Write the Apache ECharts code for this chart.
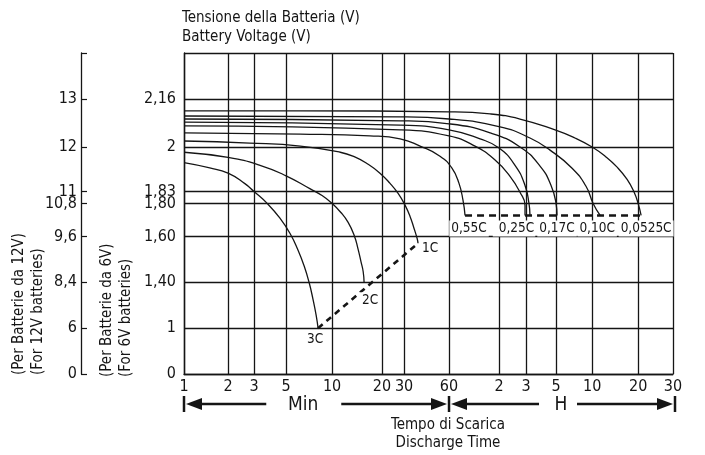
<!DOCTYPE html>
<html>
<head>
<meta charset="utf-8">
<title>Battery discharge curves</title>
<script src="https://cdn.jsdelivr.net/npm/echarts@6/dist/echarts.min.js"></script>
<style>
  html, body { margin: 0; padding: 0; background: #fff; }
  #chart { width: 705px; height: 455px; }
</style>
</head>
<body>
<div id="chart"></div>
<script>
// axis ticks (time in minutes, volts per cell)
const timeTicks = [1, 2, 3, 5, 10, 20, 30, 60, 120, 180, 300, 600, 1200, 1800]
const timeLabels = ['1', '2', '3', '5', '10', '20', '30', '60', '2', '3', '5', '10', '20', '30']
const voltTicks = [0, 1, 1.4, 1.6, 1.8, 1.83, 2, 2.16]
const voltLabels = ['0', '1', '1,40', '1,60', '1,80', '1,83', '2', '2,16']
const volt12Labels = ['0', '6', '8,4', '9,6', '10,8', '11', '12', '13']

// discharge curves
const time3C = [1, 1.5, 2, 2.6, 3, 3.7, 4.55, 5.31, 5.99, 6.56, 7.07, 7.51, 7.86, 8.1]
const volt3C = [1.94, 1.92, 1.90, 1.86, 1.83, 1.80, 1.709, 1.618, 1.54, 1.472, 1.40, 1.249, 1.116, 1.0]
const time2C = [1, 2, 3.3, 5, 7.2, 8.6, 10, 11.3, 12.5, 13.6, 14.3, 14.95, 15.4, 15.6]
const volt2C = [1.98, 1.96, 1.93, 1.89, 1.84, 1.82, 1.80, 1.745, 1.685, 1.606, 1.549, 1.489, 1.447, 1.40]
const time1C = [1, 2.8, 6.2, 11.2, 13.8, 16.5, 19.45, 23.2, 26.9, 30.5, 32.9, 35.0, 36.7, 37.2]
const volt1C = [2.02, 2.013, 2.003, 1.98, 1.961, 1.934, 1.90, 1.861, 1.825, 1.788, 1.721, 1.648, 1.591, 1.57]
const time055C = [1, 6.2, 16.9, 27.9, 38.4, 52.2, 62.5, 68.9, 72.8, 74.9]
const volt055C = [2.047, 2.043, 2.037, 2.027, 2.003, 1.965, 1.919, 1.861, 1.808, 1.727]
const time025C = [1, 27.9, 60, 86, 113.5, 141.5, 164.5, 177.4, 177.4]
const volt025C = [2.07, 2.057, 2.037, 2.003, 1.95, 1.888, 1.828, 1.788, 1.727]
const time025Cb = [1, 27.9, 60, 92.2, 120, 152.6, 177.4, 189.4, 192.6]
const volt025Cb = [2.083, 2.073, 2.057, 2.027, 1.996, 1.93, 1.853, 1.80, 1.727]
const time017C = [1, 27.9, 60, 106, 164.5, 228.5, 275.6, 300, 305.8]
const volt017C = [2.093, 2.087, 2.077, 2.047, 2.0, 1.927, 1.853, 1.80, 1.727]
const time010C = [1, 27.9, 60, 121.8, 192.6, 270.9, 408.3, 534.6, 609, 677]
const volt010C = [2.103, 2.10, 2.093, 2.067, 2.03, 1.988, 1.919, 1.849, 1.80, 1.727]
const time00525C = [1, 6.2, 60, 106, 164.5, 295, 432.6, 600, 729.4, 874.4, 1016.6, 1130, 1200, 1242.5]
const volt00525C = [2.12, 2.12, 2.117, 2.11, 2.093, 2.057, 2.03, 2.0, 1.965, 1.923, 1.876, 1.828, 1.80, 1.727]

// the sheet's scales are hand drawn: each tick sits on its own column / row
// (time columns are close to log10 of minutes, voltage rows are uneven)
const xCols = [0, 0.293, 0.466, 0.679, 0.985, 1.317, 1.464, 1.763, 2.096, 2.275, 2.475, 2.715, 3.021, 3.253]
const yRows = [0, 1, 2, 3, 3.72, 3.98, 4.95, 6]
const yTop = 7
const font = "'Liberation Sans Narrow', 'DejaVu Sans Condensed', 'Roboto', sans-serif"
const ink = '#151515'

function yPos(v) {
    let i = 0
    while (i < voltTicks.length - 2 && v > voltTicks[i + 1]) i++
    const f = (v - voltTicks[i]) / (voltTicks[i + 1] - voltTicks[i])
    return yRows[i] + f * (yRows[i + 1] - yRows[i])
}
function xPos(t) {
    let i = 0
    while (i < timeTicks.length - 2 && t > timeTicks[i + 1]) i++
    const f = Math.log(t / timeTicks[i]) / Math.log(timeTicks[i + 1] / timeTicks[i])
    return xCols[i] + f * (xCols[i + 1] - xCols[i])
}
const pick = (vals, labels) => val => {
    const i = vals.findIndex(p => Math.abs(p - val) < 1e-6)
    return i < 0 ? '' : labels[i]
}

const curves = [
    { t: time3C, v: volt3C, label: '3C', position: 'bottom', distance: 2, offset: [-3, 0] },
    { t: time2C, v: volt2C, label: '2C', position: 'bottom', distance: 9, offset: [6, 0] },
    { t: time1C, v: volt1C, label: '1C', position: 'right', distance: 1, offset: [0, 5] },
    { t: time055C, v: volt055C, label: '0,55C', position: 'bottom', distance: 4, offset: [4, 0] },
    { t: time025C, v: volt025C, label: '0,25C', position: 'bottom', distance: 4, offset: [-11, 0], padding: [1, 1, 1, 6] },
    { t: time025Cb, v: volt025Cb },
    { t: time017C, v: volt017C, label: '0,17C', position: 'bottom', distance: 4, offset: [0, 0] },
    { t: time010C, v: volt010C, label: '0,10C', position: 'bottom', distance: 4, offset: [-3, 0] },
    { t: time00525C, v: volt00525C, label: '0,0525C', position: 'bottom', distance: 4, offset: [5, 0] }
]

const lastOf = c => [xPos(c.t[c.t.length - 1]), yPos(c.v[c.v.length - 1])]

let series = []
curves.forEach(c => {
    const data = c.t.map((t, i) => [xPos(t), yPos(c.v[i])])
    if (c.label) {
        data[data.length - 1] = {
            value: data[data.length - 1],
            label: {
                show: true,
                formatter: c.label,
                position: c.position,
                distance: c.distance,
                offset: c.offset,
                color: ink,
                opacity: 1,
                fontFamily: font,
                fontSize: 13.5,
                backgroundColor: '#fff',
                padding: c.padding || [1, 2]
            }
        }
    }
    series.push({
        type: 'line',
        data: data,
        smooth: 0.5,
        smoothConstraint: false,
        symbol: 'circle',
        symbolSize: 2,
        showSymbol: true,
        itemStyle: { color: 'rgba(0,0,0,0)' },
        z: 3,
        lineStyle: { color: ink, width: 1.3 }
    })
})

// end-of-discharge dashed lines
series.push({
    type: 'line',
    data: [lastOf(curves[0]), lastOf(curves[2])],
    symbol: 'none',
    z: 2,
    lineStyle: { color: ink, width: 2.6, type: [6, 5] }
})
series.push({
    type: 'line',
    data: [lastOf(curves[3]), lastOf(curves[8])],
    symbol: 'none',
    z: 2,
    lineStyle: { color: ink, width: 2.6, type: [7, 5] }
})

const xTickPos = timeTicks.map(xPos)
const yTickPos = yRows.concat([yTop])

const option = {
    animation: false,
    backgroundColor: '#fff',
    grid: { left: 184, right: 32, top: 53, bottom: 81 },
    xAxis: {
        type: 'value',
        min: 0,
        max: xPos(1800),
        axisLine: { show: true, lineStyle: { color: ink, width: 1.4 } },
        axisTick: { show: false, customValues: xTickPos },
        axisLabel: {
            customValues: xTickPos,
            formatter: pick(xTickPos, timeLabels),
            color: ink, fontFamily: font, fontSize: 16, margin: 5
        },
        splitLine: { show: true, lineStyle: { color: ink, width: 1.3 } }
    },
    yAxis: [{
        type: 'value',
        min: 0,
        max: yTop,
        axisLine: { show: true, lineStyle: { color: ink, width: 1.4 } },
        axisTick: { show: false, customValues: yTickPos },
        axisLabel: {
            customValues: yRows,
            formatter: pick(yRows, voltLabels),
            color: ink, fontFamily: font, fontSize: 16, margin: 8
        },
        splitLine: { show: true, lineStyle: { color: ink, width: 1.3 } }
    }, {
        type: 'value',
        min: 0,
        max: yTop,
        position: 'left',
        offset: 103,
        axisLine: { show: true, lineStyle: { color: ink, width: 1.3 } },
        axisTick: { show: true, inside: true, length: 6, customValues: yTickPos, lineStyle: { color: ink, width: 1.2 } },
        axisLabel: {
            customValues: yRows,
            formatter: pick(yRows, volt12Labels),
            color: ink, fontFamily: font, fontSize: 16, margin: 4
        },
        splitLine: { show: false }
    }],
    series: series
}

const chart = echarts.init(document.getElementById('chart'))
chart.setOption(option)

// texts and the Min / H arrows under the time axis
const px = t => chart.convertToPixel({ xAxisIndex: 0 }, xPos(t))
const xa = px(1), xm = px(60), xb = px(1800)
const ay = 404
const txt = (x, y, text, size, align, rot) => ({
    type: 'text', x: x, y: y, rotation: rot || 0,
    style: { text: text, fill: ink, font: size + 'px ' + font, align: align || 'left', verticalAlign: 'middle' }
})
const bar = x => ({ type: 'line', shape: { x1: x, y1: ay - 8, x2: x, y2: ay + 8 }, style: { stroke: ink, lineWidth: 2.5 } })
const shaft = (x1, x2) => ({ type: 'line', shape: { x1: x1, y1: ay, x2: x2, y2: ay }, style: { stroke: ink, lineWidth: 2.5 } })
const head = (tip, dir) => ({
    type: 'polygon',
    shape: { points: [[tip, ay], [tip + dir * 16, ay - 6], [tip + dir * 16, ay + 6]] },
    style: { fill: ink }
})
const minC = xa + 0.45 * (xm - xa)
const hC = (xm + xb) / 2

chart.setOption({
    graphic: [
        txt(182, 18, 'Tensione della Batteria (V)', 15),
        txt(182, 37, 'Battery Voltage (V)', 15),
        txt(19, 375, '(Per Batterie da 12V)', 15, 'left', Math.PI / 2),
        txt(38, 375, '(For 12V batteries)', 15, 'left', Math.PI / 2),
        txt(107, 377, '(Per Batterie da 6V)', 15, 'left', Math.PI / 2),
        txt(126, 377, '(For 6V batteries)', 15, 'left', Math.PI / 2),
        bar(xa), head(xa + 2, 1), shaft(xa + 16, minC - 37),
        txt(minC, ay + 1, 'Min', 19, 'center'),
        shaft(minC + 38, xm - 16), head(xm - 2, -1), bar(xm),
        head(xm + 2, 1), shaft(xm + 16, hC - 22),
        txt(hC, ay + 1, 'H', 19, 'center'),
        shaft(hC + 16, xb - 14), head(xb, -1), bar(xb + 2),
        txt(448, 425, 'Tempo di Scarica', 15, 'center'),
        txt(448, 443, 'Discharge Time', 15, 'center')
    ]
})
</script>
</body>
</html>
